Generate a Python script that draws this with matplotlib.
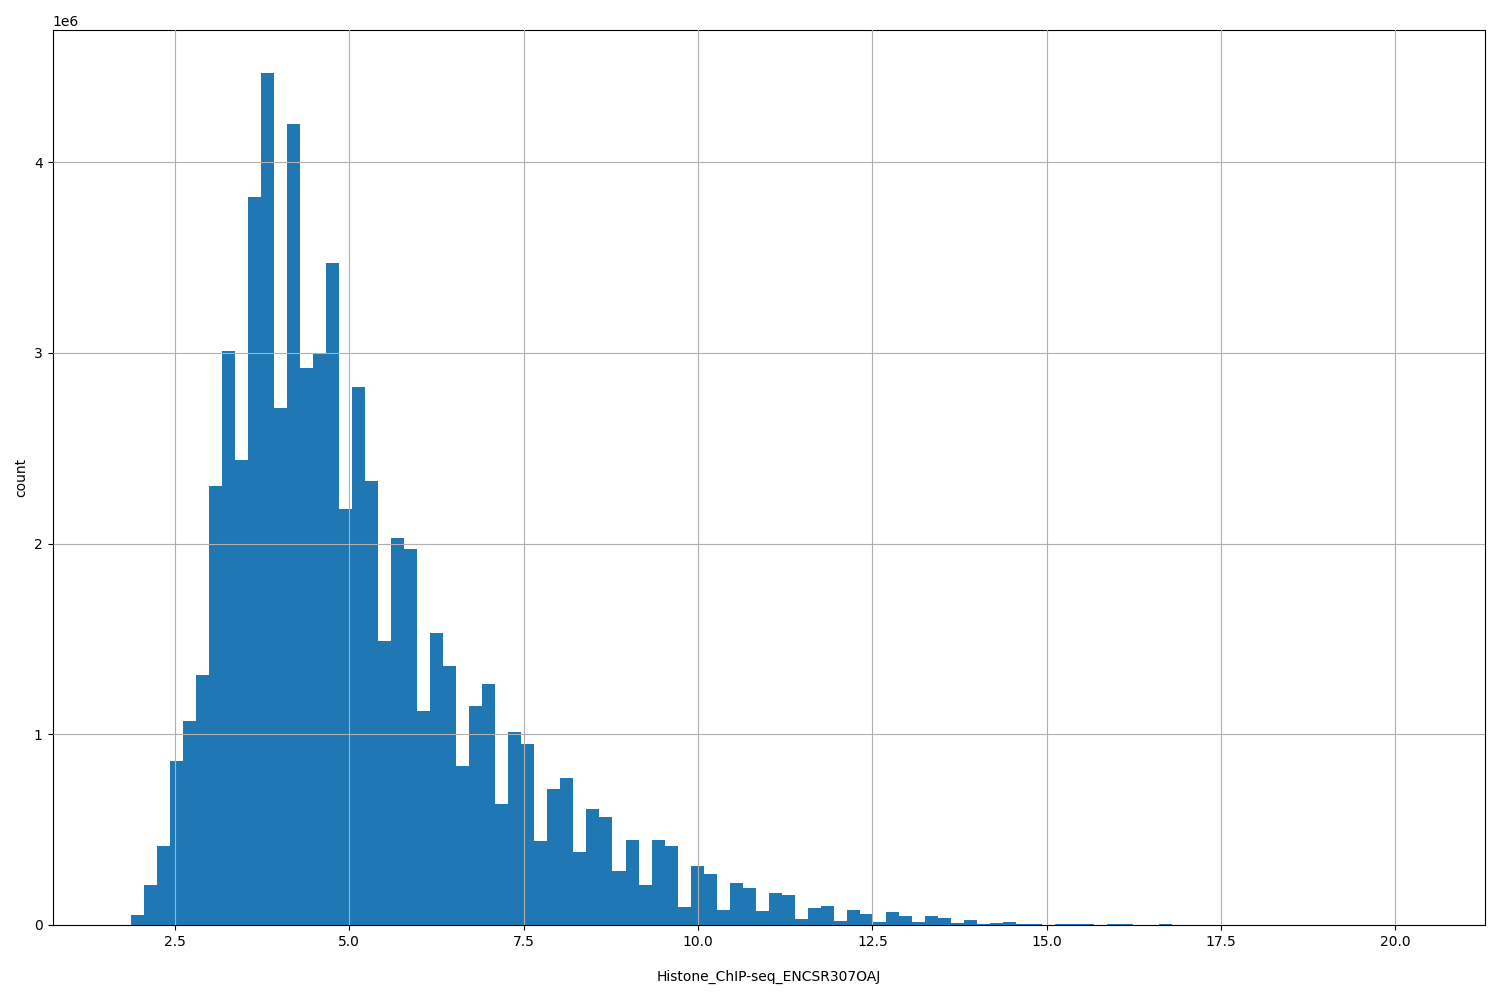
import numpy as np
import matplotlib
matplotlib.use("Agg")
import matplotlib.pyplot as plt

# histogram range and counts (millions), 100 equal bins
x_min = 1.68
x_max = 20.35
counts_m = [
    0.0, 0.05, 0.21, 0.415, 0.86, 1.07, 1.31, 2.30, 3.01, 2.44,
    3.82, 4.47, 2.71, 4.20, 2.92, 3.00, 3.47, 2.18, 2.82, 2.33,
    1.49, 2.03, 1.97, 1.12, 1.53, 1.36, 0.835, 1.15, 1.265, 0.635,
    1.01, 0.95, 0.44, 0.715, 0.77, 0.385, 0.61, 0.565, 0.285, 0.445,
    0.21, 0.445, 0.415, 0.095, 0.31, 0.27, 0.08, 0.22, 0.195, 0.075,
    0.17, 0.155, 0.03, 0.09, 0.10, 0.02, 0.08, 0.06, 0.015, 0.07,
    0.045, 0.015, 0.045, 0.035, 0.01, 0.025, 0.005, 0.01, 0.015, 0.004,
    0.005, 0.002, 0.003, 0.006, 0.006, 0.001, 0.004, 0.004, 0.001, 0.001,
    0.003, 0.001, 0.0005, 0.0005, 0.001, 0.0005, 0.0003, 0.0003, 0.0002, 0.0002,
    0.0001, 0.0001, 0.0001, 0.0001, 0.0001, 0.0001, 0.0001, 0.0001, 0.0001, 0.0001,
]

edges = np.linspace(x_min, x_max, len(counts_m) + 1)
centers = (edges[:-1] + edges[1:]) / 2
weights = np.array(counts_m) * 1e6

fig, ax = plt.subplots(figsize=(15, 10), dpi=100)
ax.hist(centers, bins=edges, weights=weights, color="#1f77b4")
ax.grid(True)
ax.set_axisbelow(False)
ax.set_xlabel("Histone_ChIP-seq_ENCSR307OAJ", labelpad=15)
ax.set_ylabel("count")
fig.subplots_adjust(left=0.035, right=0.99, top=0.97, bottom=0.075)
fig.savefig("out.png")
